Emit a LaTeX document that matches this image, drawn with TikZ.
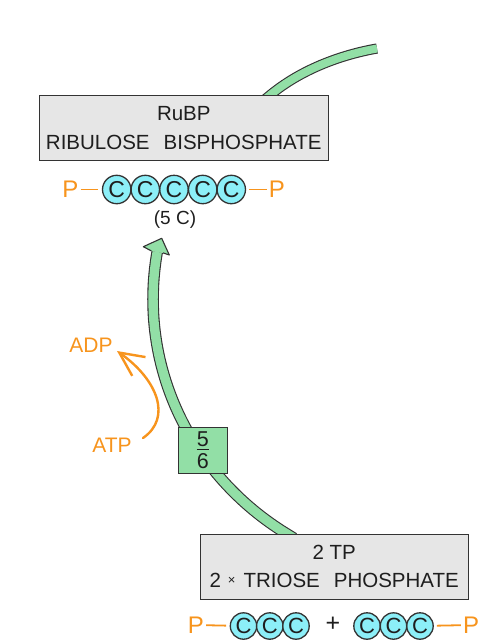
\documentclass[tikz,border=0pt]{standalone}
\usepackage{fontspec}
\setmainfont{Liberation Sans}
\usetikzlibrary{arrows.meta}
\definecolor{bandgreen}{HTML}{92DFA6}
\definecolor{cyanC}{HTML}{8CEFF8}
\definecolor{boxgrey}{HTML}{E6E6E6}
\definecolor{edge}{HTML}{333333}
\definecolor{ink}{HTML}{1E1E1E}
\definecolor{orng}{HTML}{F7941D}
\begin{document}
\begin{tikzpicture}[x=1pt,y=-1pt,
  band/.style={draw=edge, line width=1.1pt, double=bandgreen, double distance=9.4pt},
  namebox/.style={draw=edge, line width=1.2pt, fill=boxgrey, inner sep=0pt, align=center, text=ink},
  fracbox/.style={draw=edge, line width=1.2pt, fill=bandgreen, inner sep=0pt, minimum width=49pt, minimum height=46pt, text=ink, font=\fontsize{21.5}{21.5}\selectfont},
  carbonA/.style={circle, draw=edge, line width=1.3pt, fill=cyanC, minimum size=28.4pt, inner sep=0pt, text=ink, font=\fontsize{23}{23}\selectfont},
  carbonB/.style={circle, draw=edge, line width=1.3pt, fill=cyanC, minimum size=26.4pt, inner sep=0pt, text=ink, font=\fontsize{22}{22}\selectfont},
  phos/.style={text=orng, inner sep=1pt, font=\fontsize{24}{24}\selectfont},
  plink/.style={draw=orng, line width=1.8pt},
  lbl/.style={text=orng, inner sep=0pt, font=\fontsize{21}{21}\selectfont},
  energy/.style={draw=orng, line width=2.4pt, line cap=round, -{Straight Barb[length=24pt,width=23pt]}},
  headstyle/.style={fill=bandgreen, draw=edge, line width=1.1pt, line join=round}
]
\useasboundingbox (0,0) rectangle (486,643);

% ---- green bands (behind boxes)
\coordinate (topS) at (262.8,101.1);
\coordinate (topA) at (269,96);
\coordinate (topE) at (377,48.5);
\draw[band, double distance=8pt] (topS) -- (topA) .. controls (300,70) and (340,55) .. (topE);

\coordinate (mainS) at (293.8,538.2);
\coordinate (mainA) at (287,534);
\coordinate (mainE) at (157.2,251.9);
\draw[band] (mainS) -- (mainA) .. controls (189.6,474.6) and (137.4,364.2) .. (mainE);
\coordinate (headL) at (143.3,246.7);
\coordinate (headT) at (161.7,238.3);
\coordinate (headR) at (169.3,255);
\filldraw[headstyle] (151.4,250.9) -- (headL) -- (headT) -- (headR) -- (163,252.9);

% ---- boxes
\node[namebox, minimum width=289pt, minimum height=65pt, font=\fontsize{20.5}{29}\selectfont] (rubp) at (183.8,128.2)
  {RuBP\\RIBULOSE\hspace{14pt}BISPHOSPHATE};
\node[namebox, minimum width=268pt, minimum height=65pt, font=\fontsize{20.5}{28}\selectfont] (tp) at (334.2,566.7)
  {2 TP\\2\hspace{7pt}\raisebox{2.8pt}{\fontsize{13}{13}\selectfont ×}\hspace{8pt}TRIOSE\hspace{14pt}PHOSPHATE};

\node[fracbox] (frac) at (202.8,450.3)
  {\vbox{\hbox to 12pt{\hss 5\hss}\kern2.3pt\hrule height 1.1pt\kern4pt\hbox to 12pt{\hss 6\hss}}};

% ---- RuBP chain
\node[phos] (pa) at (70.5,189.5) {P};
\node[carbonA] (a1) at (116.7,189.5) {C};
\node[carbonA] (a2) at (145.3,189.5) {C};
\node[carbonA] (a3) at (174,189.5) {C};
\node[carbonA] (a4) at (202.7,189.5) {C};
\node[carbonA] (a5) at (231.3,189.5) {C};
\node[phos] (pb) at (277,189.5) {P};
\draw[plink, shorten >=3.5pt, shorten <=1pt] (pa) -- (a1);
\draw[plink, shorten <=3pt, shorten >=1pt] (a5) -- (pb);
\node[anchor=base, text=ink, inner sep=0pt, font=\fontsize{19}{19}\selectfont] (fivec) at (175,224) {(5 C)};

% ---- triose phosphate chains
\node[phos] (pc) at (196,625) {P};
\node[carbonB] (b1) at (243.5,626) {C};
\node[carbonB] (b2) at (269.8,626) {C};
\node[carbonB] (b3) at (296,626) {C};
\node[text=ink, inner sep=0pt, font=\fontsize{25}{25}\selectfont] (plus) at (333,624) {+};
\node[carbonB] (b4) at (367,626) {C};
\node[carbonB] (b5) at (393.5,626) {C};
\node[carbonB] (b6) at (420,626) {C};
\node[phos] (pd) at (471,625) {P};
\draw[plink, shorten >=3.5pt, shorten <=1pt] (pc) -- (b1);
\draw[plink, shorten <=3pt, shorten >=1pt] (b6) -- (pd);

% ---- ATP -> ADP
\node[lbl, anchor=base] (adp) at (91,352) {ADP};
\node[lbl, anchor=base] (atp) at (112,452) {ATP};
\coordinate (atpS) at (143,438);
\coordinate (adpE) at (117,351);
\draw[energy] (atpS) .. controls (172,418) and (158,380) .. (adpE);
\end{tikzpicture}
\end{document}
